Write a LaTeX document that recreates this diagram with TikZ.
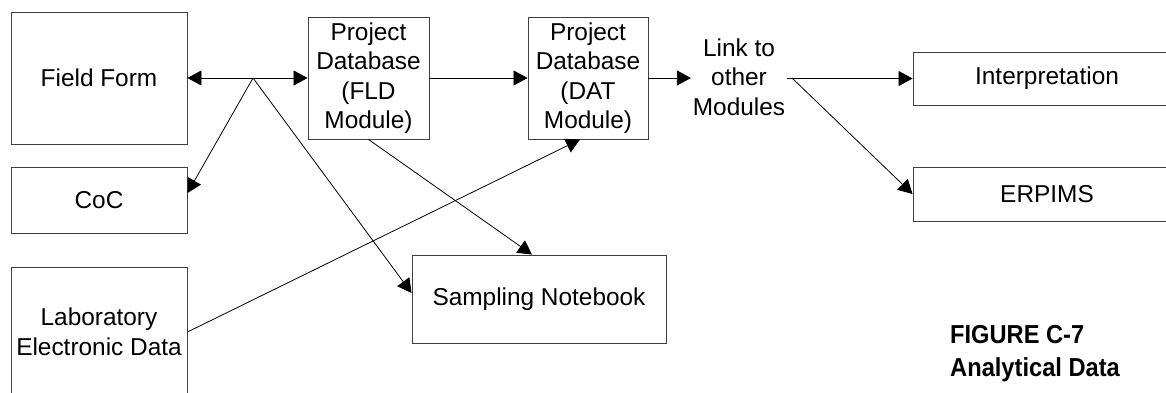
\documentclass[tikz,border=0pt]{standalone}
\usepackage{fontspec}
\setmainfont{Liberation Sans}
\usetikzlibrary{arrows.meta,calc}
\begin{document}
\begin{tikzpicture}[x=1pt,y=-1pt,
  every node/.style={font=\fontsize{24.4}{29.5}\selectfont},
  box/.style={draw=black!75,line width=0.9pt,inner sep=0pt,align=center},
  conn/.style={line width=0.8pt,-{Triangle[length=14pt,width=15pt]}},
  twoway/.style={line width=0.8pt,{Triangle[length=14pt,width=15pt]}-{Triangle[length=14pt,width=15pt]}}]
\useasboundingbox (0,0) rectangle (1166,392);
\fill[white] (0,0) rectangle (1166,392);

% source boxes on the left
\node[box,minimum width=176pt,minimum height=132pt] (field) at (99,78) {Field Form};
\node[box,minimum width=176pt,minimum height=66pt] (coc) at (99,200) {CoC};
\node[box,minimum width=176pt,minimum height=130pt] (lab) at (99,332) {Laboratory\\Electronic Data};

% project database modules
\node[box,minimum width=121pt,minimum height=122pt] (fld) at (368.5,78) {Project\\Database\\(FLD\\Module)};
\node[box,minimum width=120pt,minimum height=122pt] (dat) at (588,78) {Project\\Database\\(DAT\\Module)};
\node[align=center,inner sep=0pt,minimum width=86pt,outer sep=2pt] (link) at (739,77) {Link to\\other\\Modules};

% targets
\node[box,minimum width=268pt,minimum height=53pt] (interp) at (1047,78.5) {Interpretation};
\node[box,minimum width=268pt,minimum height=54pt] (erpims) at (1047,194) {ERPIMS};
\node[box,minimum width=254pt,minimum height=88pt] (samp) at (539,299) {Sampling Notebook};

% caption
\node[anchor=west,align=left,inner sep=0pt,font=\fontsize{26}{33}\selectfont\bfseries] (cap) at (950,353.5)
  {\scalebox{0.91}[1]{FIGURE C-7}\\\scalebox{0.91}[1]{Analytical Data}};

% branch points
\coordinate (j) at (253,78);
\coordinate (k) at (792,78);

% connectors
\draw[twoway] (field.east) -- (fld.west);
\draw[conn] (j) -- ($(coc.east)+(0,-7)$);
\draw[conn] (j) -- ($(samp.west)+(0,-6)$);
\draw[conn] (fld.east) -- (dat.west);
\draw[conn] (fld.south) -- ($(samp.north)+(-7,0)$);
\draw[conn] (lab.east) -- ($(dat.south)+(-8,0)$);
\draw[conn] (dat.east) -- (link.west |- dat.east);
\draw[conn] (link.east |- interp.west) -- (interp.west);
\draw[conn] (k) -- (erpims.west);
\end{tikzpicture}
\end{document}
